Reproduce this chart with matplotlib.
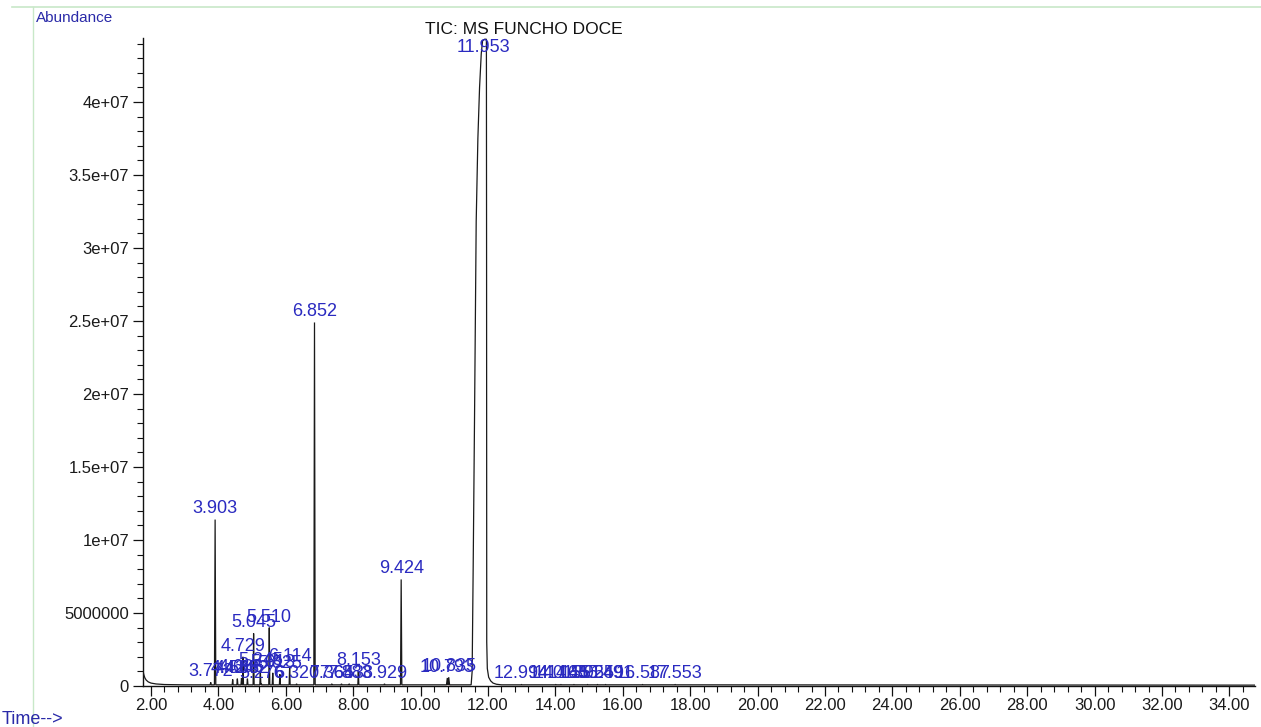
import matplotlib
matplotlib.use('Agg')
import matplotlib.pyplot as plt
from matplotlib.ticker import FixedLocator, MultipleLocator
from matplotlib.lines import Line2D

plt.rcParams['font.family'] = ['Liberation Sans', 'DejaVu Sans']

# ---------------- data ----------------
title = 'TIC: MS FUNCHO DOCE'
y_title = 'Abundance'
x_title = 'Time-->'

x_ticks = [2, 4, 6, 8, 10, 12, 14, 16, 18, 20, 22, 24, 26, 28, 30, 32, 34]
x_ticklabels = ['2.00', '4.00', '6.00', '8.00', '10.00', '12.00', '14.00', '16.00',
                '18.00', '20.00', '22.00', '24.00', '26.00', '28.00', '30.00',
                '32.00', '34.00']
y_ticks = [0, 5e6, 1e7, 1.5e7, 2e7, 2.5e7, 3e7, 3.5e7, 4e7]
y_ticklabels = ['0', '5000000', '1e+07', '1.5e+07', '2e+07', '2.5e+07',
                '3e+07', '3.5e+07', '4e+07']

# solvent tail / baseline
base_t = [1.77, 1.79, 1.82, 1.86, 1.92, 2.00, 2.15, 2.40, 3.00, 34.76]
base_y = [0.95e6, 0.75e6, 0.55e6, 0.40e6, 0.28e6, 0.20e6, 0.14e6, 0.10e6, 0.08e6, 0.06e6]
base_level = 0.08e6

# labelled peaks: retention time, apex abundance, label
peak_times = [3.772, 3.903, 4.424, 4.563, 4.686, 4.729, 4.862, 5.045, 5.245, 5.276,
              5.510, 5.613, 5.825, 6.114, 6.320, 6.852, 7.364, 7.653, 7.883, 8.153,
              8.929, 9.424, 10.793, 10.835, 12.994, 14.013, 14.165, 14.551, 14.955,
              15.249, 15.491, 16.587, 17.553]
peak_heights = [0.25e6, 11.4e6, 0.45e6, 0.5e6, 0.55e6, 2.0e6, 0.5e6, 3.6e6, 1.0e6, 0.15e6,
                4.0e6, 0.9e6, 0.8e6, 1.3e6, 0.15e6, 24.9e6, 0.15e6, 0.15e6, 0.15e6, 1.0e6,
                0.15e6, 7.3e6, 0.55e6, 0.6e6, 0.1e6, 0.1e6, 0.1e6, 0.1e6, 0.1e6,
                0.1e6, 0.1e6, 0.1e6, 0.1e6]
peak_halfwidths = [0.015, 0.02, 0.015, 0.015, 0.015, 0.015, 0.015, 0.015, 0.015, 0.015,
                   0.015, 0.015, 0.015, 0.015, 0.015, 0.02, 0.015, 0.015, 0.015, 0.015,
                   0.015, 0.02, 0.025, 0.025, 0.015, 0.015, 0.015, 0.015, 0.015,
                   0.015, 0.015, 0.015, 0.015]
peak_labels = ['3.772', '3.903', '4.424', '4.563', '4.686', '4.729', '4.862', '5.045',
               '5.245', '5.276', '5.510', '5.613', '5.825', '6.114', '6.320', '6.852',
               '7.364', '7.653', '7.883', '8.153', '8.929', '9.424', '10.793', '10.835',
               '12.994', '14.013', '14.165', '14.551', '14.955', '15.249', '15.491',
               '16.587', '17.553']

# main (overloaded) peak profile
main_label = '11.953'
main_apex = 11.953
main_t = [11.50, 11.53, 11.56, 11.60, 11.65, 11.70, 11.75, 11.80, 11.84, 11.90,
          11.945, 11.953, 11.958, 11.963, 11.98, 12.02, 12.08, 12.15, 12.25, 12.40]
main_y = [0.08e6, 1.0e6, 8.0e6, 18.2e6, 31.8e6, 37.5e6, 41.0e6, 43.3e6, 44.2e6, 44.3e6,
          44.3e6, 44.3e6, 30.0e6, 3.0e6, 1.2e6, 0.6e6, 0.35e6, 0.2e6, 0.12e6, 0.08e6]

# ---------------- build trace ----------------
ranges = [(t - w, t + w) for t, w in zip(peak_times, peak_halfwidths)]
ranges.append((main_t[0], main_t[-1]))
pts = []
for t, y in zip(base_t, base_y):
    if not any(a <= t <= b for a, b in ranges):
        pts.append((t, y))
for t, h, w in zip(peak_times, peak_heights, peak_halfwidths):
    pts += [(t - w, base_level), (t, h), (t + w, base_level)]
pts += list(zip(main_t, main_y))
pts.sort(key=lambda p: p[0])
trace_t = [p[0] for p in pts]
trace_y = [p[1] for p in pts]

# ---------------- figure ----------------
W, H = 1261, 727
fig = plt.figure(figsize=(W / 100, H / 100), dpi=100)
fig.patch.set_facecolor('white')

left, right, bottom, top = 143, 1255, 686, 38
ax = fig.add_axes([left / W, (H - bottom) / H, (right - left) / W, (bottom - top) / H])
ax.set_facecolor('white')

px_per_min = 33.7
x0 = 1.763
ax.set_xlim(x0, x0 + (right - left) / px_per_min)
ax.set_ylim(0, (bottom - top) / 14.6 * 1e6)

ax.plot(trace_t, trace_y, color='#1a1a1a', lw=0.9, solid_joinstyle='miter', zorder=3)

# integration baselines
for t in peak_times:
    ax.plot([t - 0.08, t + 0.08], [0.02e6, 0.02e6], color='#d04040', lw=0.8, zorder=2)

label_color = '#2a2ac0'
for t, h, lab in zip(peak_times, peak_heights, peak_labels):
    ax.annotate(lab, xy=(t, h), xytext=(0, 1.5), textcoords='offset points',
                ha='center', va='bottom', fontsize=13, color=label_color, zorder=4)
ax.annotate(main_label, xy=(main_apex, 1.0), xycoords=('data', 'axes fraction'),
            xytext=(-2, -1), textcoords='offset points', ha='center', va='top',
            fontsize=13, color=label_color, zorder=4)

for s in ['top', 'right']:
    ax.spines[s].set_visible(False)
for s in ['left', 'bottom']:
    ax.spines[s].set_color('#111111')
    ax.spines[s].set_linewidth(1.0)

ax.xaxis.set_major_locator(FixedLocator(x_ticks))
ax.set_xticklabels(x_ticklabels)
ax.xaxis.set_minor_locator(MultipleLocator(0.4))
ax.yaxis.set_major_locator(FixedLocator(y_ticks))
ax.set_yticklabels(y_ticklabels)
ax.yaxis.set_minor_locator(MultipleLocator(1e6))
ax.tick_params(axis='both', which='major', direction='out', length=7, width=0.9,
               colors='#111111', labelsize=12, labelcolor='#1a1a1a')
ax.tick_params(axis='both', which='minor', direction='out', length=4, width=0.8,
               colors='#111111')
ax.tick_params(axis='x', which='major', pad=2)
ax.tick_params(axis='y', which='major', pad=3)

fig.text(524 / W, 1 - 29 / H, title, ha='center', va='center', fontsize=12.5, color='#111111')
fig.text(36 / W, 1 - 18 / H, y_title, ha='left', va='center', fontsize=11, color='#2a2aa8')
fig.text(2 / W, 1 - 719 / H, x_title, ha='left', va='center', fontsize=13, color='#2a2aa8')

# light green frame
fig.add_artist(Line2D([12 / W, 1.0], [1 - 7 / H, 1 - 7 / H], transform=fig.transFigure,
                      color='#c8e8c8', lw=1.2))
fig.add_artist(Line2D([33 / W, 33 / W], [0, 1 - 7 / H], transform=fig.transFigure,
                      color='#c8e8c8', lw=1.0))

fig.savefig('out.png', dpi=100, facecolor='white')
